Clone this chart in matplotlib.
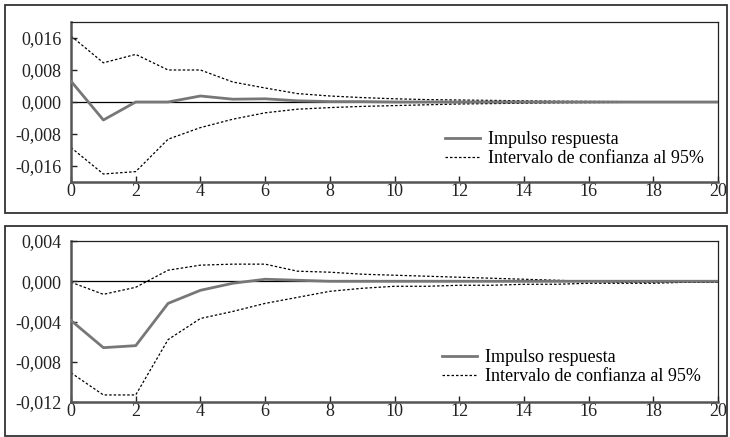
import numpy as np
import matplotlib
matplotlib.use("Agg")
import matplotlib.pyplot as plt
from matplotlib.patches import Rectangle
from matplotlib.ticker import FuncFormatter

plt.rcParams['font.family'] = ['Liberation Serif', 'DejaVu Serif']

periodos = list(range(21))

# Panel superior
irf_1 = [0.0052, -0.0045, 0.0000, 0.0000, 0.0015, 0.0007, 0.0008, 0.0003, 0.0001, 0.0001,
         0.0000, 0.0000, 0.0000, 0.0000, 0.0000, 0.0000, 0.0000, 0.0000, 0.0000, 0.0000, 0.0000]
sup_1 = [0.0165, 0.0098, 0.0119, 0.0080, 0.0080, 0.0050, 0.0035, 0.0021, 0.0015, 0.0011,
         0.0008, 0.0006, 0.0005, 0.0004, 0.0003, 0.0002, 0.00015, 0.0001, 0.00007, 0.00004, 0.0000]
inf_1 = [-0.0114, -0.0180, -0.0174, -0.0093, -0.0064, -0.0043, -0.0027, -0.0018, -0.0014, -0.0011,
         -0.0009, -0.0007, -0.0005, -0.0004, -0.0003, -0.0002, -0.00015, -0.0001, -0.00005, -0.00002, 0.0000]

# Panel inferior
irf_2 = [-0.0039, -0.0066, -0.0064, -0.0022, -0.0009, -0.0002, 0.0002, 0.0001, 0.0000, 0.0000,
         0.0000, 0.0000, 0.0000, 0.0000, 0.0000, 0.0000, 0.0000, 0.0000, 0.0000, 0.0000, 0.0000]
sup_2 = [-0.0001, -0.0013, -0.0006, 0.0011, 0.0016, 0.0017, 0.0017, 0.0010, 0.0009, 0.0007,
         0.0006, 0.0005, 0.0004, 0.0003, 0.0002, 0.0001, 0.0000, -0.0001, -0.0001, -0.0001, -0.0001]
inf_2 = [-0.0091, -0.0113, -0.0113, -0.0058, -0.0037, -0.0030, -0.0022, -0.0016, -0.0010, -0.0007,
         -0.0005, -0.0005, -0.0004, -0.0004, -0.0003, -0.0003, -0.0002, -0.0002, -0.0002, -0.0001, -0.0001]

xticks = [0, 2, 4, 6, 8, 10, 12, 14, 16, 18, 20]
yticks_1 = [-0.016, -0.008, 0.0, 0.008, 0.016]
yticks_2 = [-0.012, -0.008, -0.004, 0.0, 0.004]

etiq_irf = 'Impulso respuesta'
etiq_ic = 'Intervalo de confianza al 95%'

fmt = FuncFormatter(lambda v, p: ('%.3f' % v).replace('.', ','))

fig = plt.figure(figsize=(7.3, 4.37), dpi=100)

# marcos exteriores
for (b, h) in [(0.5126, 0.476), (0.0023, 0.4805)]:
    fig.patches.append(Rectangle((0.0068, b), 0.989, h, transform=fig.transFigure,
                                 fill=False, edgecolor='#333333', linewidth=1.3))

ax1 = fig.add_axes([0.0973, 0.5835, 0.8863, 0.3662])
ax2 = fig.add_axes([0.0973, 0.0801, 0.8863, 0.3684])

paneles = [(ax1, irf_1, sup_1, inf_1, (-0.020, 0.020), yticks_1, (0.578, 0.318)),
           (ax2, irf_2, sup_2, inf_2, (-0.012, 0.004), yticks_2, (0.573, 0.328))]

for ax, irf, sup, inf, ylim, yt, pos in paneles:
    ax.axhline(0, color='black', linewidth=0.9, zorder=1)
    ax.plot(periodos, irf, color='#777777', linewidth=2.0, label=etiq_irf, zorder=3)
    ax.plot(periodos, sup, color='black', linewidth=0.9, linestyle=(0, (2, 1.6)), label=etiq_ic, zorder=2)
    ax.plot(periodos, inf, color='black', linewidth=0.9, linestyle=(0, (2, 1.6)), zorder=2)
    ax.set_xlim(0, 20)
    ax.set_ylim(*ylim)
    ax.set_xticks(xticks)
    ax.set_yticks(yt)
    ax.yaxis.set_major_formatter(fmt)
    ax.tick_params(direction='in', length=4, width=1, labelsize=13, colors='#222222')
    ax.tick_params(axis='y', pad=7)
    ax.tick_params(axis='x', pad=1)
    for s in ['left', 'bottom']:
        ax.spines[s].set_linewidth(1.8)
        ax.spines[s].set_color('#555555')
    for s in ['top', 'right']:
        ax.spines[s].set_linewidth(0.9)
        ax.spines[s].set_color('#222222')
    ax.legend(loc='upper left', bbox_to_anchor=pos, frameon=False, fontsize=13,
              handlelength=1.95, handletextpad=0.45, labelspacing=0.1, borderpad=0,
              borderaxespad=0)

fig.savefig('out.png', dpi=100)
